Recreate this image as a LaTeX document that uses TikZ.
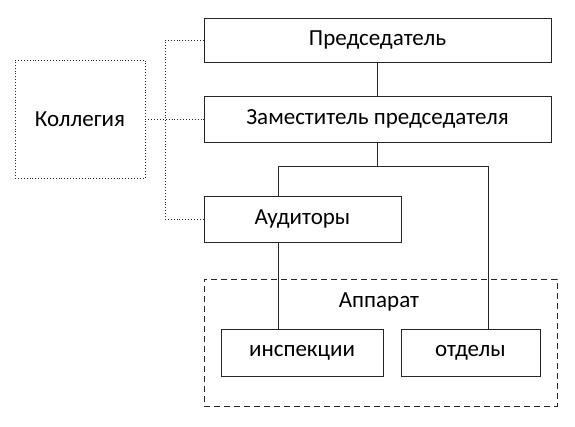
\documentclass[tikz,border=0pt]{standalone}
\usepackage{fontspec}
\setmainfont{Carlito}
\usetikzlibrary{positioning}
\begin{document}
\begin{tikzpicture}[x=1pt,y=1pt,
            blk/.style={draw=ln, line width=0.9pt, minimum height=46pt, inner sep=0pt, font=\fontsize{23}{27}\selectfont},
            dotln/.style={draw=ln, line width=0.9pt, dotted}]
            \definecolor{ln}{HTML}{262626}
            \useasboundingbox (0,0) rectangle (575,-427);
            \node[draw=ln, dashed, dash pattern=on 6pt off 4pt, line width=0.9pt, minimum width=353pt, minimum height=127pt] (app) at (380.5,-342.5) {};
            \node[font=\fontsize{23}{27}\selectfont] (applbl) at (379,-302) {Аппарат};
            \node[blk, dotln, minimum width=130pt, minimum height=118pt] (kol) at (80,-119) {Коллегия};
            \node[blk, minimum width=347pt, minimum height=44pt] (pred) at (377.5,-40) {Председатель};
            \node[blk, minimum width=347pt] (zam) at (377.5,-119) {Заместитель председателя};
            \node[blk, minimum width=197pt] (aud) at (302.5,-219) {Аудиторы};
            \node[blk, minimum width=162pt, minimum height=47pt] (insp) at (302,-352.5) {инспекции};
            \node[blk, minimum width=139pt, minimum height=47pt] (otd) at (470.5,-352.5) {отделы};
            \coordinate (lx) at (278,0);
            \coordinate (rx) at (488,0);
            \coordinate (bus) at (165,0);
            \draw[draw=ln, line width=0.9pt] (pred.south) -- (zam.north);
            \draw[draw=ln, line width=0.9pt] (zam.south) -- ++(0,-24) coordinate (fork);
            \draw[draw=ln, line width=0.9pt] (aud.north -| lx) |- (fork) -| (otd.north -| rx);
            \draw[draw=ln, line width=0.9pt] (aud.south -| lx) -- (insp.north -| lx);
            \draw[dotln] (kol.east) -- (zam.west);
            \draw[dotln] (pred.west) -| (bus |- aud.west) -- (aud.west);
        \end{tikzpicture}
\end{document}
